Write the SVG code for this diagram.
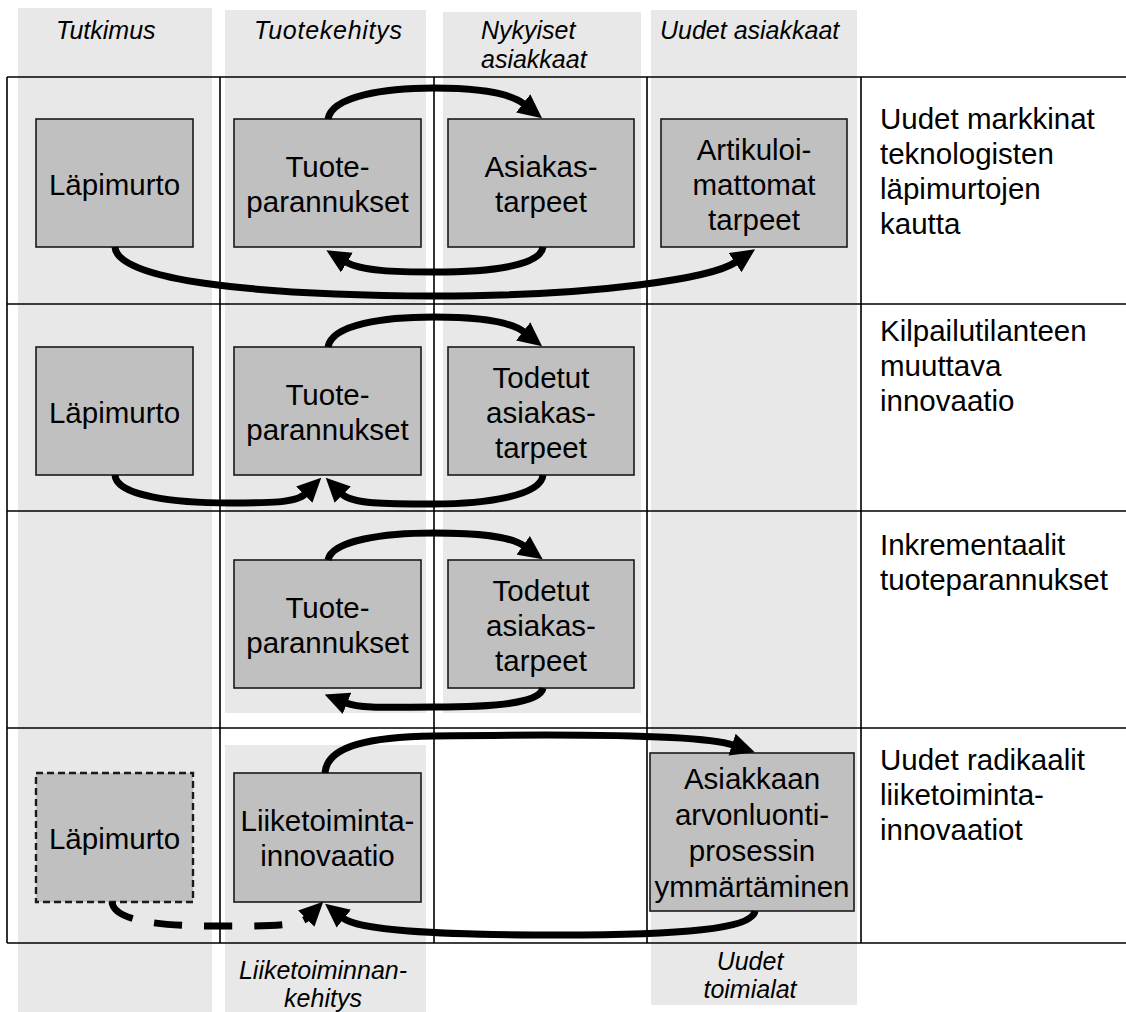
<svg xmlns="http://www.w3.org/2000/svg" width="1126" height="1012" viewBox="0 0 1126 1012">
  <style>
    .band { fill: #e8e8e8; }
    .grid { stroke: #000; stroke-width: 1.6; fill: none; }
    .box { fill: #c0c0c0; stroke: #1a1a1a; stroke-width: 1.6; }
    .box.dash { stroke-dasharray: 7 4; stroke-width: 2.4; }
    .lbl { font-family: "Liberation Sans", Arial, sans-serif; font-size: 29.5px; fill: #000; }
    .c { text-anchor: middle; }
    .hdr { font-family: "Liberation Sans", Arial, sans-serif; font-size: 25px; font-style: italic; fill: #000; }
    .flow { fill: none; stroke: #000; stroke-width: 7; marker-end: url(#ah); }
    .flow.dashed { stroke-dasharray: 28 22; }
  </style>
  <defs>
    <marker id="ah" markerUnits="userSpaceOnUse" markerWidth="24" markerHeight="24" viewBox="0 0 23 22" refX="1" refY="11" orient="auto">
      <path d="M0,0 L23,11 L0,22 z" fill="#000"/>
    </marker>
  </defs>

  <rect width="1126" height="1012" fill="#fff"/>

  <!-- column shading -->
  <g id="bands">
    <rect class="band" x="18" y="8" width="194" height="1004"/>
    <rect class="band" x="225" y="10" width="201" height="703"/>
    <rect class="band" x="225" y="745" width="201" height="267"/>
    <rect class="band" x="443" y="12" width="198" height="701"/>
    <rect class="band" x="651" y="10" width="206" height="995"/>
  </g>

  <!-- column headings -->
  <g id="headings">
    <text class="hdr" x="56" y="39">Tutkimus</text>
    <text class="hdr" x="254" y="39" textLength="148">Tuotekehitys</text>
    <text class="hdr" x="481" y="39">Nykyiset</text>
    <text class="hdr" x="481" y="68">asiakkaat</text>
    <text class="hdr" x="660" y="39">Uudet asiakkaat</text>
    <text class="hdr c" x="323" y="979">Liiketoiminnan-</text>
    <text class="hdr c" x="323" y="1007">kehitys</text>
    <text class="hdr c" x="750" y="970">Uudet</text>
    <text class="hdr c" x="750" y="998">toimialat</text>
  </g>

  <!-- table rules -->
  <g id="grid" class="grid">
    <path d="M7,77 H1126 M7,304 H1126 M7,511 H1126 M7,728 H1126 M7,943 H1126"/>
    <path d="M7,77 V943 M220,77 V943 M434,77 V943 M647,77 V943 M861,77 V943"/>
  </g>

  <!-- row captions -->
  <g id="row-labels">
    <text class="lbl" x="880" y="129">Uudet markkinat</text>
    <text class="lbl" x="880" y="164">teknologisten</text>
    <text class="lbl" x="880" y="199">läpimurtojen</text>
    <text class="lbl" x="880" y="234">kautta</text>
    <text class="lbl" x="880" y="341">Kilpailutilanteen</text>
    <text class="lbl" x="880" y="376">muuttava</text>
    <text class="lbl" x="880" y="411">innovaatio</text>
    <text class="lbl" x="880" y="555">Inkrementaalit</text>
    <text class="lbl" x="880" y="590">tuoteparannukset</text>
    <text class="lbl" x="880" y="770">Uudet radikaalit</text>
    <text class="lbl" x="880" y="805">liiketoiminta-</text>
    <text class="lbl" x="880" y="840">innovaatiot</text>
  </g>

  <!-- row 1 -->
  <g id="r1-lapimurto">
    <rect class="box" x="36" y="119" width="157" height="128"/>
    <text class="lbl c" x="114.5" y="195">Läpimurto</text>
  </g>
  <g id="r1-tuote">
    <rect class="box" x="234" y="119" width="187" height="128"/>
    <text class="lbl c" x="327.5" y="177">Tuote-</text>
    <text class="lbl c" x="327.5" y="212">parannukset</text>
  </g>
  <g id="r1-asiakas">
    <rect class="box" x="448" y="119" width="186" height="128"/>
    <text class="lbl c" x="541" y="177">Asiakas-</text>
    <text class="lbl c" x="541" y="212">tarpeet</text>
  </g>
  <g id="r1-artikuloimattomat">
    <rect class="box" x="661" y="119" width="186" height="128"/>
    <text class="lbl c" x="754" y="160">Artikuloi-</text>
    <text class="lbl c" x="754" y="195">mattomat</text>
    <text class="lbl c" x="754" y="230">tarpeet</text>
  </g>

  <!-- row 2 -->
  <g id="r2-lapimurto">
    <rect class="box" x="36" y="347" width="157" height="128"/>
    <text class="lbl c" x="114.5" y="423">Läpimurto</text>
  </g>
  <g id="r2-tuote">
    <rect class="box" x="234" y="347" width="187" height="128"/>
    <text class="lbl c" x="327.5" y="405">Tuote-</text>
    <text class="lbl c" x="327.5" y="440">parannukset</text>
  </g>
  <g id="r2-todetut">
    <rect class="box" x="448" y="347" width="186" height="128"/>
    <text class="lbl c" x="541" y="388">Todetut</text>
    <text class="lbl c" x="541" y="423">asiakas-</text>
    <text class="lbl c" x="541" y="458">tarpeet</text>
  </g>

  <!-- row 3 -->
  <g id="r3-tuote">
    <rect class="box" x="234" y="560" width="187" height="128"/>
    <text class="lbl c" x="327.5" y="618">Tuote-</text>
    <text class="lbl c" x="327.5" y="653">parannukset</text>
  </g>
  <g id="r3-todetut">
    <rect class="box" x="448" y="560" width="186" height="128"/>
    <text class="lbl c" x="541" y="601">Todetut</text>
    <text class="lbl c" x="541" y="636">asiakas-</text>
    <text class="lbl c" x="541" y="671">tarpeet</text>
  </g>

  <!-- row 4 -->
  <g id="r4-lapimurto">
    <rect class="box dash" x="36" y="773" width="157" height="129"/>
    <text class="lbl c" x="114.5" y="849">Läpimurto</text>
  </g>
  <g id="r4-liiketoiminta">
    <rect class="box" x="234" y="773" width="187" height="129"/>
    <text class="lbl c" x="327.5" y="831">Liiketoiminta-</text>
    <text class="lbl c" x="327.5" y="866">innovaatio</text>
  </g>
  <g id="r4-arvonluonti">
    <rect class="box" x="650" y="753" width="204" height="158"/>
    <text class="lbl c" x="752" y="789">Asiakkaan</text>
    <text class="lbl c" x="752" y="825">arvonluonti-</text>
    <text class="lbl c" x="752" y="861">prosessin</text>
    <text class="lbl c" x="752" y="897">ymmärtäminen</text>
  </g>

  <!-- connectors -->
  <g id="connectors">
    <path class="flow" d="M328,119 C332,96 385,88 434,88 C478,88 510,93 524,104"/>
    <path class="flow" d="M543,247 C540,266 490,272 434,272 C395,272 361,271 346,262"/>
    <path class="flow" d="M115,247 C117,280 250,295 434,296 C600,296 712,278 736,262"/>

    <path class="flow" d="M328,347 C332,324 385,317 434,317 C478,317 510,321 524,332"/>
    <path class="flow" d="M115,475 C116,496 175,503 230,503 C268,503 296,503 305,494"/>
    <path class="flow" d="M543,475 C541,496 485,504 434,504 C385,504 352,504 342,494"/>

    <path class="flow" d="M328,560 C332,540 385,533 434,533 C478,533 510,536 524,546"/>
    <path class="flow" d="M543,688 C540,704 490,707 434,707 C395,707 361,709 346,703"/>

    <path class="flow" d="M325,773 C327,745 372,737 434,736 C560,734 700,734 733,745"/>
    <path class="flow" d="M755,911 C752,929 680,935 560,935 C430,935 358,930 343,918"/>
    <path class="flow dashed" d="M112,902 C114,922 165,926 214,926 C258,926 298,927 307,918"/>
  </g>
</svg>
